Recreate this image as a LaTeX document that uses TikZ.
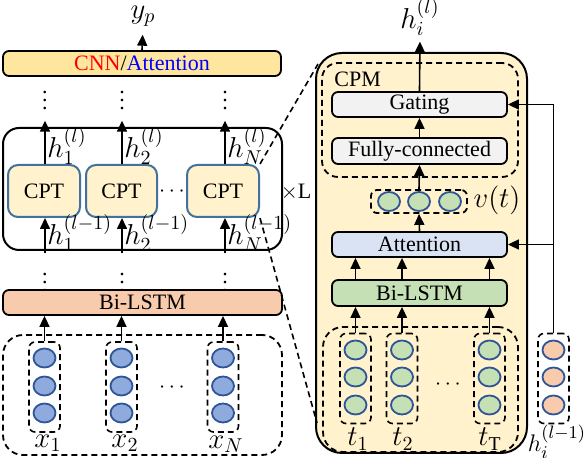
\documentclass[tikz,border=0pt]{standalone}
\usepackage{fontspec}
\setmainfont{Liberation Serif}
\usetikzlibrary{arrows.meta,shapes.geometric}
\definecolor{cnnfill}{HTML}{FFE69E}
\definecolor{cptfill}{HTML}{FFF2CC}
\definecolor{cptline}{HTML}{41719C}
\definecolor{lstmfill}{HTML}{F8CBAD}
\definecolor{gatefill}{HTML}{F2F2F2}
\definecolor{attnfill}{HTML}{DAE3F3}
\definecolor{greenfill}{HTML}{C5E0B4}
\definecolor{bluefill}{HTML}{8FAADC}
\definecolor{unitline}{HTML}{2F5597}
\begin{document}
\begin{tikzpicture}[x=0.5pt,y=-0.5pt,font=\fontsize{11}{13}\selectfont,>={Triangle[width=5pt,length=5.5pt]}]
\tikzstyle{bar} = [draw,line width=0.9pt,rounded corners=3pt,minimum height=12.5pt,inner sep=0pt]
\tikzstyle{cptbox} = [draw=cptline,fill=cptfill,line width=1pt,rounded corners=5pt,minimum height=26pt,inner sep=0pt]
\tikzstyle{unit} = [ellipse,draw=unitline,line width=0.9pt,minimum width=11pt,minimum height=9.5pt,inner sep=0pt]
\tikzstyle{col} = [draw,dash pattern=on 3pt off 2pt,line width=0.8pt,rounded corners=3pt,minimum width=15.5pt,minimum height=45pt,inner sep=0pt]
\tikzstyle{group} = [draw,dash pattern=on 3pt off 2pt,line width=0.9pt,inner sep=0pt]
\tikzstyle{dotsv} = [inner sep=0pt]
\tikzstyle{lbl} = [inner sep=0pt,font=\fontsize{14}{16}\selectfont]
\useasboundingbox (0,0) rectangle (584,458);

% left: stacked layers
\node[bar,fill=cnnfill,minimum width=139pt] (cnn) at (142,63.5) {{\color{red}CNN}/{\color{blue}Attention}};
\node[lbl] (yp) at (143,16) {$y_p$};
\draw[->,thick,shorten >=4pt] (cnn.north) -- (yp.south);

\node[draw,line width=1pt,rounded corners=8pt,minimum width=139.5pt,minimum height=61pt] (layer) at (142.5,189) {};
\node[cptbox,minimum width=36pt] (cpt1) at (44,191) {CPT};
\node[cptbox,minimum width=35.5pt] (cpt2) at (121.5,191) {CPT};
\node[cptbox,minimum width=36pt] (cpt3) at (223,191) {CPT};
\node (cdots) at (172,192) {$\cdots$};
\node (times) at (296,192) {$\times$L};

\node[dotsv] (u1) at (45,95) {$\vdots$};
\node[dotsv] (u2) at (122,95) {$\vdots$};
\node[dotsv] (u3) at (225,95) {$\vdots$};
\node[dotsv] (l1) at (45,277) {$\vdots$};
\node[dotsv] (l2) at (122,277) {$\vdots$};
\node[dotsv] (l3) at (225,277) {$\vdots$};

\draw[->,thick,shorten >=5pt] (cpt1.north -| u1) -- (u1.south);
\draw[->,thick,shorten >=5pt] (cpt2.north -| u2) -- (u2.south);
\draw[->,thick,shorten >=5pt] (cpt3.north -| u3) -- (u3.south);
\draw[->,thick,shorten <=4pt] (l1.north) -- (cpt1.south -| l1);
\draw[->,thick,shorten <=4pt] (l2.north) -- (cpt2.south -| l2);
\draw[->,thick,shorten <=4pt] (l3.north) -- (cpt3.south -| l3);

\node[lbl,anchor=west] (ho1) at (47,146) {$h_1^{(l)}$};
\node[lbl,anchor=west] (ho2) at (124,146) {$h_2^{(l)}$};
\node[lbl,anchor=west] (ho3) at (227,146) {$h_N^{(l)}$};
\node[lbl,anchor=west] (hi1) at (47,233) {$h_1^{(l-1)}$};
\node[lbl,anchor=west] (hi2) at (124,233) {$h_2^{(l-1)}$};
\node[lbl,anchor=west] (hi3) at (227,233) {$h_N^{(l-1)}$};

\node[bar,fill=lstmfill,minimum width=139.5pt] (lstm) at (142.5,302.5) {Bi-LSTM};

% left: input words
\node[group,rounded corners=10pt,minimum width=139.5pt,minimum height=60pt] (xin) at (142.5,395) {};
\node[col] (xc1) at (44.5,387) {};
\node[col] (xc2) at (121.5,387) {};
\node[col] (xc3) at (223,387) {};
\foreach \c/\x in {1/44.5,2/121.5,3/223} {
  \foreach \y in {358,386,413}
    \node[unit,fill=bluefill] (x\c-\y) at (\x,\y) {};
  \draw[->,thick] (xc\c.north) -- (lstm.south -| xc\c);
}
\node (xdots) at (172,388) {$\cdots$};
\node[lbl] (xl1) at (48,443) {$x_1$};
\node[lbl] (xl2) at (125,443) {$x_2$};
\node[lbl] (xl3) at (226,444) {$x_N$};

% right: CPT in detail
\node[draw,fill=cptfill,line width=1pt,rounded corners=13pt,minimum width=105.5pt,minimum height=200pt] (cptbig) at (421.5,253) {};
\coordinate (zt) at (318,64);
\coordinate (zb) at (317,423);
\draw[dash pattern=on 3pt off 2pt,line width=0.8pt] (cpt3.north east) -- (zt);
\draw[dash pattern=on 3pt off 2pt,line width=0.8pt] (cpt3.south east) -- (zb);

\node[group,rounded corners=8pt,minimum width=98pt,minimum height=57pt] (cpm) at (420,120) {};
\node[anchor=west,inner sep=0pt] (cpmlabel) at (334,79) {CPM};
\node[bar,fill=gatefill,minimum width=87.5pt] (gate) at (419.5,104.5) {Gating};
\node[bar,fill=gatefill,minimum width=87.5pt,minimum height=13pt] (fc) at (419.5,151) {Fully-connected};
\node[lbl] (hout) at (420,17) {$h_i^{(l)}$};
\draw[->,thick,shorten >=3pt] (gate.north) -- (hout.south);
\draw[->,thick] (fc.north) -- (gate.south);

\node[group,rounded corners=3pt,minimum width=48pt,minimum height=11.5pt] (vt) at (419,201.5) {};
\foreach \x in {389,419,450}
  \node[unit,fill=greenfill] (v\x) at (\x,201.5) {};
\node[lbl] (vtlabel) at (497,200) {$v(t)$};
\draw[->,thick] (vt.north) -- (fc.south);

\node[bar,fill=attnfill,minimum width=87.5pt] (attn) at (419.5,244.5) {Attention};
\draw[->,thick] (attn.north) -- (vt.south);
\node[bar,fill=greenfill,minimum width=87.5pt,minimum height=13pt] (lstm2) at (419.5,293) {Bi-LSTM};

\node[group,rounded corners=10pt,minimum width=97.5pt,minimum height=62.5pt] (tin) at (420.5,389.5) {};
\node[col] (tc1) at (355.5,378.5) {};
\node[col] (tc2) at (402,378.5) {};
\node[col] (tc3) at (489.5,378.5) {};
\foreach \c/\x in {1/355.5,2/402,3/489.5} {
  \foreach \y in {350,377,405}
    \node[unit,fill=greenfill] (t\c-\y) at (\x,\y) {};
  \draw[->,thick] (tc\c.north) -- (lstm2.south -| tc\c);
  \draw[->,thick] (lstm2.north -| tc\c) -- (attn.south -| tc\c);
}
\node (tdots) at (448,385) {$\cdots$};
\node[lbl] (tl1) at (358,439) {$t_1$};
\node[lbl] (tl2) at (403,439) {$t_2$};
\node[lbl] (tl3) at (490,439) {$t_{\mathrm{T}}$};

% right: previous hidden state
\node[col] (hc) at (553.5,378.5) {};
\foreach \y in {350,377,405}
  \node[unit,fill=lstmfill] (h-\y) at (553.5,\y) {};
\node[lbl,font=\fontsize{12.5}{14}\selectfont] (hlabel) at (557,442) {$h_i^{(l-1)}$};
\draw[->,thick] (hc.north) |- (gate.east);
\draw[->,thick] (hc.north |- attn.east) -- (attn.east);
\end{tikzpicture}
\end{document}
